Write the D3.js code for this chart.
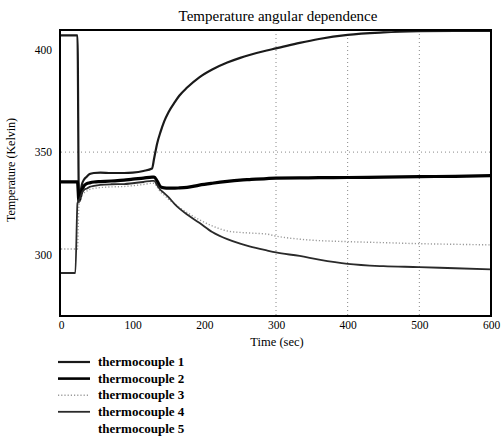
<!DOCTYPE html>
<html><head><meta charset="utf-8">
<script src="https://cdn.jsdelivr.net/npm/d3@7"></script>
<style>body{margin:0;background:#fff}svg text{font-family:"Liberation Serif","DejaVu Serif",serif;fill:#000}</style>
</head><body><svg id="c" width="504" height="437"></svg>
<script>
const time = [0,10,20,23,25,27,29,32,36,40,46,55,70,88,100,115,127,130,134,139,144,150,159,165,176,193,211,232,250,263,287,300,333,360,400,450,500,550,600];
const tc1 = [407,407,407,407,326,330,334,336.5,338,339.3,339.8,340,339.8,339.8,340,340.8,342,347,354,360,365,369.5,374.5,377.5,381.5,386.5,390.3,393.7,396,397.4,399.6,400.6,403.3,405.2,407.2,408.4,409,409.2,409.2];
const tc2 = [335.5,335.5,335.5,335.5,326,328,331,333.5,334.6,335,335.4,335.6,335.9,336.3,336.8,337.3,337.8,337.8,336,333,332.5,332.4,332.4,332.5,332.8,333.9,334.8,335.7,336.3,336.6,337.1,337.3,337.4,337.5,337.6,337.8,338,338.2,338.5];
const tc3 = [302.7,302.7,302.7,302.7,324,326.5,328.5,330,331,331.8,332.3,332.7,333,333.2,333.6,334.2,334.8,334.8,333,330.5,329,327,324.5,323,320.5,317,314,311.5,310.8,310.5,310,309,307.5,306.8,306.3,305.8,305.3,305,304.7];
const tc4 = [291,291,291,325,326.5,328,330,331.5,332.2,333,333.5,334,334.3,334.4,334.8,335.4,336,336,334,331.5,330,328,324.5,322.5,319.5,315.5,311,307.5,305.3,304,302,301,299.3,297.5,295.4,294.3,293.9,293.3,292.8];
const tc5 = [];
const seriesNames = ["thermocouple 1","thermocouple 2","thermocouple 3","thermocouple 4","thermocouple 5"];
const xTicks = [0,100,200,300,400,500,600];
const yTicks = [300,350,400];
const xGrid = [300,400,500];
const yGrid = [350];

const styles = [
  {stroke:"#1a1a1a", width:2.2, dash:null},
  {stroke:"#000", width:3.2, dash:null},
  {stroke:"#9a9a9a", width:1.4, dash:"1.2,2"},
  {stroke:"#2a2a2a", width:1.8, dash:null},
  {stroke:"none", width:0, dash:null}
];
const seriesVals = [tc1, tc2, tc3, tc4, tc5];

const svg = d3.select("#c");
const L = 61, R = 491, T = 30, B = 316;
const x = d3.scaleLinear().domain([0,600]).range([L,R]);
const y = d3.scaleLinear().domain([270,409.6]).range([B,T]);

// grid
svg.append("g").selectAll("line").data(xGrid).join("line")
  .attr("x1", d=>x(d)).attr("x2", d=>x(d)).attr("y1", T).attr("y2", B)
  .attr("stroke","#888").attr("stroke-width",1).attr("stroke-dasharray","1,3");
svg.append("g").selectAll("line").data(yGrid).join("line")
  .attr("x1", L).attr("x2", R).attr("y1", d=>y(d)).attr("y2", d=>y(d))
  .attr("stroke","#888").attr("stroke-width",1).attr("stroke-dasharray","1,3");

// lines
const line = d3.line().x((d,i)=>x(time[i])).y(d=>y(d)).curve(d3.curveMonotoneX);
seriesVals.forEach((vals,k)=>{
  if (!vals.length || styles[k].stroke==="none") return;
  const p = svg.append("path").datum(vals).attr("d", line)
    .attr("fill","none").attr("stroke",styles[k].stroke)
    .attr("stroke-width",styles[k].width).attr("stroke-linejoin","round");
  if (styles[k].dash) p.attr("stroke-dasharray", styles[k].dash);
});

// frame
svg.append("rect").attr("x",L-1).attr("y",T).attr("width",R-L+1).attr("height",B-T)
  .attr("fill","none").attr("stroke","#000").attr("stroke-width",2);

// axes
const xAxis = d3.axisBottom(x).tickValues(xTicks).tickSize(0).tickPadding(5).tickFormat(d3.format("d"));
const gx = svg.append("g").attr("transform",`translate(0,${B})`).call(xAxis);
gx.select(".domain").remove();
gx.selectAll("text").style("font-size","11.5px").style("font-family","Liberation Serif");
const yAxis = d3.axisLeft(y).tickValues(yTicks).tickSize(0).tickPadding(8).tickFormat(d3.format("d"));
const gy = svg.append("g").attr("transform",`translate(${L-1},0)`).call(yAxis);
gy.select(".domain").remove();
gy.selectAll("text").style("font-size","11.5px").style("font-family","Liberation Serif");

// titles
svg.append("text").attr("x",278).attr("y",21).attr("text-anchor","middle")
  .style("font-size","15px").text("Temperature angular dependence");
svg.append("text").attr("x",277).attr("y",346).attr("text-anchor","middle")
  .style("font-size","12.5px").text("Time (sec)");
svg.append("text").attr("transform","translate(15,170) rotate(-90)").attr("text-anchor","middle")
  .style("font-size","12px").text("Temperature (Kelvin)");

// legend
const lg = svg.append("g");
seriesNames.forEach((n,k)=>{
  const yy = 362 + k*16.6;
  if (styles[k].stroke!=="none") {
    const l = lg.append("line").attr("x1",58).attr("x2",90).attr("y1",yy).attr("y2",yy)
      .attr("stroke",styles[k].stroke).attr("stroke-width",Math.min(styles[k].width,2.6));
    if (styles[k].dash) l.attr("stroke-dasharray",styles[k].dash);
  }
  lg.append("text").attr("x",98).attr("y",yy).attr("dy","0.32em")
    .style("font-size","13px").style("font-weight","bold").text(n);
});
</script>
</body></html>
